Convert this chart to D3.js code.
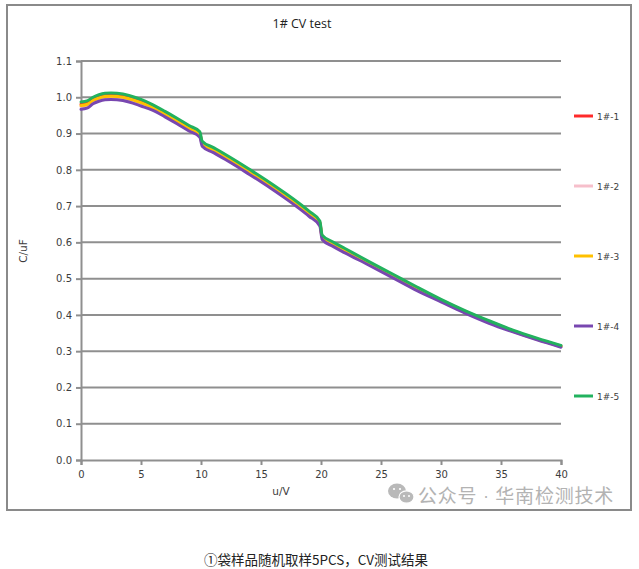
<!DOCTYPE html>
<html>
<head>
<meta charset="utf-8">
<script src="https://cdn.jsdelivr.net/npm/d3@7"></script>
<style>
  html, body { margin: 0; padding: 0; background: #ffffff; }
  svg { display: block; }
</style>
</head>
<body>
<svg id="chart" width="639" height="569"></svg>
<script>
// ---------- data ----------
const voltage = [0,0.5,1,1.5,2,2.5,3,4,5,6,7,8,9,9.9,10.1,11,12,13,14,15,16,17,18,19,19.9,20.1,21,22,24,26,28,30,32,34,36,38,40];

const s1 = [0.981,0.984,0.995,1.002,1.006,1.007,1.006,1.000,0.989,0.974,0.956,0.937,0.917,0.900,0.875,0.858,0.839,0.819,0.798,0.777,0.755,0.732,0.708,0.682,0.655,0.616,0.597,0.579,0.544,0.509,0.474,0.441,0.410,0.382,0.356,0.334,0.314];
const s2 = [0.974,0.977,0.988,0.995,0.999,1.000,0.999,0.993,0.982,0.969,0.951,0.932,0.912,0.895,0.870,0.853,0.834,0.814,0.793,0.772,0.750,0.727,0.703,0.677,0.650,0.612,0.593,0.575,0.540,0.505,0.470,0.438,0.407,0.379,0.355,0.333,0.313];
const s3 = [0.977,0.980,0.991,0.998,1.002,1.003,1.002,0.996,0.985,0.971,0.953,0.934,0.914,0.897,0.872,0.855,0.836,0.816,0.795,0.774,0.752,0.729,0.705,0.679,0.652,0.614,0.595,0.577,0.542,0.507,0.472,0.439,0.408,0.380,0.355,0.333,0.313];
const s4 = [0.967,0.970,0.982,0.989,0.993,0.994,0.993,0.987,0.976,0.964,0.946,0.927,0.907,0.890,0.865,0.848,0.829,0.809,0.788,0.767,0.745,0.722,0.698,0.672,0.645,0.608,0.589,0.571,0.537,0.502,0.467,0.436,0.405,0.377,0.353,0.331,0.311];
const s5 = [0.987,0.990,1.000,1.007,1.011,1.012,1.011,1.005,0.994,0.979,0.961,0.942,0.922,0.905,0.879,0.862,0.843,0.823,0.802,0.781,0.759,0.736,0.712,0.686,0.659,0.620,0.601,0.583,0.547,0.512,0.477,0.443,0.412,0.384,0.358,0.336,0.316];

const seriesNames = ["1#-1","1#-2","1#-3","1#-4","1#-5"];
const seriesColors = ["#ff2a2a","#f6bfcb","#ffc000","#7847b0","#22b25e"];
const xTicks = [0,5,10,15,20,25,30,35,40];
const yTicks = [0.0,0.1,0.2,0.3,0.4,0.5,0.6,0.7,0.8,0.9,1.0,1.1];

const titleText = "1# CV test";
const xLabel = "u/V";
const yLabel = "C/uF";
const watermarkParts = ["公众号", "·", "华南检测技术"];
const caption = "①袋样品随机取样5PCS，CV测试结果";

// ---------- drawing ----------
const svg = d3.select("#chart");
const series = [s1, s2, s3, s4, s5].map((vals, i) => ({
  name: seriesNames[i], color: seriesColors[i],
  points: vals.map((v, j) => ({ x: voltage[j], y: v }))
}));

const x = d3.scaleLinear().domain([0, 40]).range([81, 561]);
const y = d3.scaleLinear().domain([0, 1.1]).range([460, 61]);
const gridColor = "#8f8f8f";
const textColor = "#3c3c3c";
const tickFont = "DejaVu Sans, sans-serif";

// outer frame
svg.append("rect").attr("x", 7).attr("y", 5).attr("width", 624).attr("height", 505)
  .attr("fill", "#ffffff").attr("stroke", "#8a8a8a").attr("stroke-width", 2);

// title
svg.append("text").attr("x", 302).attr("y", 28).attr("text-anchor", "middle")
  .attr("font-family", "Open Sans, sans-serif").attr("font-size", 12.5)
  .attr("fill", "#222").text(titleText);

// gridlines
svg.append("g").selectAll("line").data(yTicks.filter(t => t > 0)).join("line")
  .attr("x1", x(0)).attr("x2", x(40))
  .attr("y1", d => y(d)).attr("y2", d => y(d))
  .attr("stroke", gridColor).attr("stroke-width", 2);

// y axis
const yAxis = svg.append("g").attr("transform", `translate(${x(0)},0)`)
  .call(d3.axisLeft(y).tickValues(yTicks).tickFormat(d3.format(".1f")).tickSize(5).tickPadding(4));
yAxis.select(".domain").attr("stroke", gridColor).attr("stroke-width", 2);
yAxis.selectAll(".tick line").attr("stroke", gridColor).attr("stroke-width", 2);
yAxis.selectAll("text").attr("font-family", tickFont).attr("font-size", 10).attr("fill", textColor);

// x axis
const xAxis = svg.append("g").attr("transform", `translate(0,${y(0)})`)
  .call(d3.axisBottom(x).tickValues(xTicks).tickFormat(d3.format("d")).tickSize(5).tickPadding(6));
xAxis.select(".domain").attr("stroke", gridColor).attr("stroke-width", 2);
xAxis.selectAll(".tick line").attr("stroke", gridColor).attr("stroke-width", 2);
xAxis.selectAll("text").attr("font-family", tickFont).attr("font-size", 10).attr("fill", textColor);

// axis labels
svg.append("text").attr("x", 281).attr("y", 495).attr("text-anchor", "middle")
  .attr("font-family", tickFont).attr("font-size", 10.5).attr("fill", textColor).text(xLabel);
svg.append("text").attr("transform", "translate(27,251) rotate(-90)").attr("text-anchor", "middle")
  .attr("font-family", tickFont).attr("font-size", 10.5).attr("fill", textColor).text(yLabel);

// lines
const line = d3.line().x(d => x(d.x)).y(d => y(d.y)).curve(d3.curveMonotoneX);
svg.append("g").selectAll("path").data(series).join("path")
  .attr("d", d => line(d.points))
  .attr("fill", "none").attr("stroke", d => d.color)
  .attr("stroke-width", 3).attr("stroke-linejoin", "round").attr("stroke-linecap", "round");

// legend
const legendY = d3.scalePoint().domain(seriesNames).range([116, 396]);
const lg = svg.append("g").selectAll("g").data(series).join("g")
  .attr("transform", d => `translate(574,${legendY(d.name)})`);
lg.append("line").attr("x1", 0).attr("x2", 19).attr("y1", 0).attr("y2", 0)
  .attr("stroke", d => d.color).attr("stroke-width", 3);
lg.append("text").attr("x", 23).attr("y", 3.5)
  .attr("font-family", tickFont).attr("font-size", 9).attr("fill", textColor)
  .text(d => d.name);

// watermark (wechat style icon + text)
const wm = svg.append("g").attr("fill", "#b9b9b9");
wm.append("ellipse").attr("cx", 397).attr("cy", 491).attr("rx", 9).attr("ry", 7.5);
wm.append("ellipse").attr("cx", 406.5).attr("cy", 497).attr("rx", 7.5).attr("ry", 6.2)
  .attr("stroke", "#ffffff").attr("stroke-width", 1.2);
[[394,489],[400,489]].forEach(p => wm.append("circle").attr("cx", p[0]).attr("cy", p[1]).attr("r", 1.1).attr("fill", "#fff"));
[[404,496],[409,496]].forEach(p => wm.append("circle").attr("cx", p[0]).attr("cy", p[1]).attr("r", 1).attr("fill", "#fff"));
const wmText = wm.append("text").attr("x", 418).attr("y", 503)
  .attr("font-family", "Noto Sans CJK SC, sans-serif").attr("font-size", 19)
  .attr("fill", "#b3b3b3").attr("letter-spacing", 0.8);
wmText.append("tspan").text(watermarkParts[0]);
wmText.append("tspan").attr("dx", 6).text(watermarkParts[1]);
wmText.append("tspan").attr("dx", 6).text(watermarkParts[2]);
wmText.selectAll("tspan").filter((d, i) => i === 1).attr("font-family", "DejaVu Sans, sans-serif").attr("font-size", 16);

// caption
svg.append("text").attr("x", 316).attr("y", 565).attr("text-anchor", "middle")
  .attr("font-family", "Noto Sans CJK SC, sans-serif").attr("font-size", 13.5)
  .attr("fill", "#222").text(caption);
</script>
</body>
</html>
